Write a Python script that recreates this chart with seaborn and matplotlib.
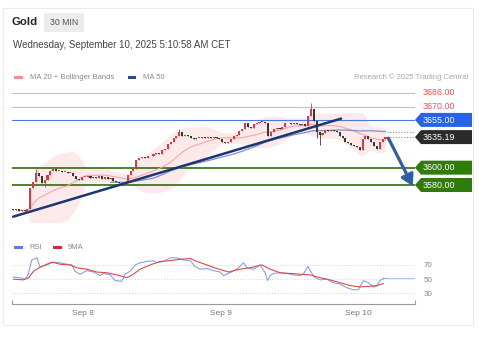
import matplotlib
matplotlib.use("Agg")
import numpy as np
import pandas as pd
import seaborn as sns
import matplotlib.pyplot as plt
from matplotlib.patches import Polygon, Rectangle

# ---------------- data ----------------
first_open = 3552
closes = [3551, 3552, 3550, 3551, 3550, 3552, 3576, 3584, 3594, 3590,
          3582, 3586, 3592, 3596, 3598, 3596, 3596, 3595, 3595, 3594,
          3594, 3590, 3587, 3586, 3589, 3589, 3590, 3588, 3589, 3588,
          3590, 3587, 3589, 3587, 3588, 3585, 3583, 3582, 3581, 3583,
          3591, 3596, 3598, 3609, 3611, 3612, 3611, 3613, 3613, 3616,
          3617, 3616, 3620, 3622, 3627, 3630, 3634, 3637, 3641, 3637,
          3638, 3637, 3634, 3633, 3634, 3634, 3635, 3634, 3635, 3634,
          3635, 3634, 3633, 3630, 3628, 3629, 3633, 3636, 3638, 3642,
          3644, 3651, 3647, 3646, 3650, 3652, 3653, 3653, 3652, 3636,
          3641, 3644, 3646, 3645, 3647, 3652, 3651, 3650, 3651, 3650,
          3649, 3650, 3648, 3660, 3668, 3654, 3641, 3638, 3640, 3643,
          3642, 3643, 3642, 3641, 3637, 3634, 3630, 3628, 3626, 3625,
          3624, 3620, 3633, 3637, 3633, 3630, 3625, 3622, 3629, 3633,
          3635.19]

wick_idx = [8, 11, 58, 104, 106, 107]
wick_hi = [3598, 3586, 3645, 3674, 3654, 3641]
wick_lo = [3584, 3578, 3637, 3660, 3634, 3626]

rsi_t = [0, 2.4, 4.2, 5.3, 6.5, 8.3, 9.4, 11.8, 14.1, 16.4, 18.7, 20.5, 21.6,
         23.4, 25.7, 28, 30.4, 31.5, 33.9, 35.6, 37.9, 39.1, 40.8, 42.6, 44.3,
         46.7, 49, 50.2, 52.5, 54.8, 57.1, 59.4, 61.8, 63.5, 65.3, 67.6, 69.9,
         72.3, 73.4, 75.7, 78.1, 80.4, 81.6, 83.9, 86.2, 88, 88.8, 89.7, 90.9,
         93.2, 95.5, 97.8, 100.2, 101.3, 102.9, 104.3, 105.4, 107.2, 109.5,
         111.8, 114.1, 116.5, 118.8, 120.5, 122.3, 124, 125.8, 126.9, 128.1,
         129.3, 130]
rsi_v = [53, 52, 50, 57, 77, 80, 67, 70, 74, 73, 71, 70, 61,
         57, 62, 60, 55, 58, 56, 48, 47, 57, 61, 70, 73,
         75, 76, 73, 75, 80, 80, 77, 76, 68, 64, 65, 62,
         60, 55, 59, 64, 73, 66, 64, 70, 59, 48, 55, 58,
         59, 58, 56, 55, 57, 68, 58, 52, 49, 50,
         45, 43, 38, 35, 35, 48, 45, 39, 40, 48,
         51, 51]

sma_t = [0.1, 3.6, 5.4, 7.1, 9.4, 11.8, 13.5, 16.4, 19.9, 22.2, 25.7, 29.2,
         32.7, 36.2, 39.7, 42, 44.3, 47.8, 51.3, 54.8, 58.3, 61.8, 64.1, 67.6,
         71.1, 75.2, 79.2, 82.7, 86.8, 89.7, 93.2, 96.7, 100.2, 103.7, 107.2,
         110.6, 114.1, 117.6, 121.1, 124.6, 127, 129.3]
sma_v = [50, 49, 52, 61, 67, 71, 74, 71, 70, 66, 64, 60,
         59, 56, 52, 57, 64, 70, 75, 76, 78, 79, 75, 70,
         65, 60, 64, 66, 70, 64, 59, 58, 57, 56, 52,
         49, 45, 41, 39, 40, 41, 44]

trend_x = [0, 114.5]
trend_y = [3543.5, 3656.5]
arrow_x = [131, 139.5]
arrow_y = [3634, 3578.8]

level_values = [3686, 3670, 3655, 3600, 3580]
level_colors = ["#f5aaaa", "#f5aaaa", "#4a78e8", "#3d7a1a", "#3d7a1a"]
level_widths = [0.8, 0.8, 0.8, 1.3, 1.3]

tag_values = [3686, 3670, 3655, 3635.19, 3600, 3580]
tag_texts = ["3686.00", "3670.00", "3655.00", "3635.19", "3600.00", "3580.00"]
tag_boxed = [False, False, True, True, True, True]
tag_colors = ["#e8555a", "#e8555a", "#2463ea", "#2b2b2b", "#2f7c0c", "#2f7c0c"]

date_pos = [24.5, 72.7, 120.4]
date_labels = ["Sep 8", "Sep 9", "Sep 10"]
rsi_ticks = [30, 50, 70]

# ---------------- setup ----------------
sns.set_theme(style="white")
plt.rcParams["font.family"] = ["Liberation Sans", "DejaVu Sans"]

W, H = 479, 340
fig = plt.figure(figsize=(W / 100, H / 100), dpi=100)
fig.patch.set_facecolor("white")


def fx(x):
    return x / W


def fy(y):
    return 1 - y / H


# card border
fig.add_artist(Rectangle((fx(3), fy(325)), (473 - 3) / W, (325 - 8) / H,
                         transform=fig.transFigure, fill=False,
                         edgecolor="#ebebeb", lw=0.8))

# header
fig.text(fx(12), fy(22), "Gold", fontsize=8.2, fontweight="bold",
         color="#222", va="center")
fig.add_artist(Rectangle((fx(44), fy(32)), 40 / W, 19 / H,
                         transform=fig.transFigure, facecolor="#ececec",
                         edgecolor="none"))
fig.text(fx(64), fy(22.5), "30 MIN", fontsize=6.3, color="#555",
         va="center", ha="center")
fig.text(fx(13), fy(45), "Wednesday, September 10, 2025 5:10:58 AM CET",
         fontsize=7, color="#444", va="center")

# legends
fig.add_artist(Rectangle((fx(14), fy(79)), 9 / W, 3 / H,
                         transform=fig.transFigure, facecolor="#ee8f98",
                         edgecolor="none"))
fig.text(fx(30), fy(77.5), "MA 20 + Bollinger Bands", fontsize=5.5,
         color="#8a8a8a", va="center")
fig.add_artist(Rectangle((fx(128), fy(79)), 8 / W, 3 / H,
                         transform=fig.transFigure, facecolor="#2b4a8a",
                         edgecolor="none"))
fig.text(fx(143), fy(77.5), "MA 50", fontsize=5.5, color="#8a8a8a",
         va="center")
fig.text(fx(468), fy(77.5), "Research \u00a9 2025 Trading Central",
         fontsize=5.5, color="#a8a8a8", va="center", ha="right")

# ---------------- price panel ----------------
ax = fig.add_axes([fx(12), fy(222), 403 / W, 137 / H])
xmin, xmax = -0.4, 140.3
ax.set_xlim(xmin, xmax)
ax.set_ylim(3537.4, 3695.2)
ax.axis("off")

t = np.arange(len(closes))
df = pd.DataFrame({"t": t, "close": closes})
df["open"] = df["close"].shift(1).fillna(first_open)
df["ma20"] = df["close"].rolling(20, min_periods=2).mean()
sd = df["close"].rolling(20, min_periods=2).std()
df["upper"] = df["ma20"] + 2 * sd
df["lower"] = df["ma20"] - 2 * sd
df["ma50"] = df["close"].rolling(50, min_periods=35).mean()

ax.fill_between(df["t"], df["lower"], df["upper"], color="#fbdcde",
                alpha=0.6, lw=0, zorder=1)

for v, c, w in zip(level_values, level_colors, level_widths):
    ax.axhline(v, color=c, lw=w, zorder=2)

sns.lineplot(x=df["t"], y=df["ma20"], ax=ax, color="#f2a8ab", lw=0.8,
             zorder=3)
sns.lineplot(x=df["t"], y=df["ma50"], ax=ax, color="#7c8fcf", lw=0.9,
             zorder=3)

# candles
hi = np.maximum(df["open"], df["close"]).to_numpy().astype(float)
lo = np.minimum(df["open"], df["close"]).to_numpy().astype(float)
for k, h, l in zip(wick_idx, wick_hi, wick_lo):
    hi[k] = max(hi[k], h)
    lo[k] = min(lo[k], l)
up = df["close"] >= df["open"]
cols = np.where(up, "#e0373c", "#333b33")
body_lo = np.minimum(df["open"], df["close"])
body_h = np.maximum(np.abs(df["close"] - df["open"]), 0.9)
ax.vlines(df["t"], lo, hi, colors=cols, lw=0.6, zorder=4)
ax.bar(df["t"], body_h, bottom=body_lo, width=0.72, color=cols, lw=0,
       zorder=5)

# trendline & arrow
ax.plot(trend_x, trend_y, color="#1b3670", lw=1.8, zorder=6,
        solid_capstyle="round")
ax.annotate("", xy=(arrow_x[1], arrow_y[1]), xytext=(arrow_x[0], arrow_y[0]),
            arrowprops=dict(arrowstyle="-|>,head_width=0.32,head_length=0.55",
                            color="#2e5fa6", lw=2.3, shrinkA=0, shrinkB=0),
            annotation_clip=False, zorder=7)

# dotted extensions
ax.hlines([df["close"].iloc[-1], df["ma50"].iloc[-1]], t[-1] + 0.5, xmax,
          colors="#8c8c8c", linestyles=(0, (1, 1.5)), lw=0.8, zorder=2)

# tags
fig.canvas.draw()
for v, txt, boxed, c in zip(tag_values, tag_texts, tag_boxed, tag_colors):
    ydisp = ax.transData.transform((0, v))[1]
    yp = H - ydisp
    if boxed:
        pts = [(415, yp), (421, yp - 7), (472, yp - 7), (472, yp + 7),
               (421, yp + 7)]
        fig.add_artist(Polygon([(fx(a), fy(b)) for a, b in pts],
                               closed=True, transform=fig.transFigure,
                               facecolor=c, edgecolor="none"))
        fig.text(fx(423), fy(yp + 0.3), txt, fontsize=6.4, color="white",
                 va="center", ha="left")
    else:
        fig.text(fx(423), fy(yp), txt, fontsize=6.4, color=c, va="center",
                 ha="left")

# ---------------- RSI panel ----------------
axr = fig.add_axes([fx(12), fy(304), 403 / W, 49 / H])
axr.set_xlim(xmin, xmax)
axr.set_ylim(15, 84)
for s in ["top", "left", "right"]:
    axr.spines[s].set_visible(False)
axr.spines["bottom"].set_color("#9a9a9a")
axr.spines["bottom"].set_linewidth(0.8)
axr.vlines([xmin + 0.05, xmax - 0.05], 15, 21, colors="#9a9a9a", lw=0.8,
           clip_on=False)

for v in rsi_ticks:
    axr.axhline(v, color="#d2d2d2", lw=0.7, ls=(0, (1, 2)), zorder=1)

sns.lineplot(x=rsi_t, y=rsi_v, ax=axr, color="#86a2e6", lw=0.8, zorder=3)
sns.lineplot(x=sma_t, y=sma_v, ax=axr, color="#df4a4a", lw=0.8, zorder=4)
axr.hlines(rsi_v[-1], rsi_t[-1], xmax, colors="#b5c6ef", lw=0.8, zorder=2)

axr.yaxis.tick_right()
axr.set_yticks(rsi_ticks)
axr.set_yticklabels([str(v) for v in rsi_ticks], fontsize=5.8, color="#888")
axr.tick_params(axis="y", length=0, pad=6)
axr.set_xticks(date_pos)
axr.set_xticklabels(date_labels, fontsize=6, color="#777")
axr.tick_params(axis="x", length=0, pad=4.5)
axr.set_xlabel("")
axr.set_ylabel("")

# RSI legend
fig.add_artist(Rectangle((fx(14), fy(249)), 9 / W, 3 / H,
                         transform=fig.transFigure, facecolor="#5b7fe0",
                         edgecolor="none"))
fig.text(fx(29), fy(247.5), "RSI", fontsize=5.5, color="#8a8a8a",
         va="center")
fig.add_artist(Rectangle((fx(53), fy(249)), 9 / W, 3 / H,
                         transform=fig.transFigure, facecolor="#d42a2a",
                         edgecolor="none"))
fig.text(fx(68), fy(247.5), "9MA", fontsize=5.5, color="#8a8a8a",
         va="center")

fig.savefig("out.png", dpi=100, facecolor="white")
